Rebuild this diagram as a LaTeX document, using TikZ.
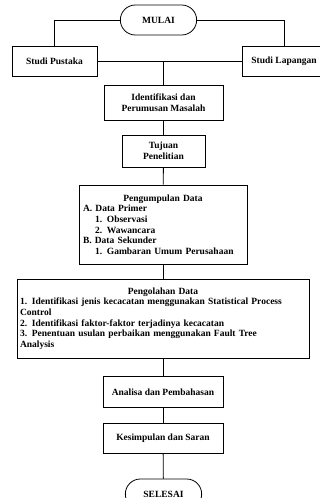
\documentclass[tikz,border=0pt]{standalone}
\usepackage{fontspec}
\setmainfont{Liberation Serif}
\usetikzlibrary{shapes}

\begin{document}
\begin{tikzpicture}[x=1pt,y={(0pt,-1pt)}]
    \tikzstyle{every node}=[font=\bfseries\fontsize{9.5}{10.6}\selectfont]
    \tikzstyle{box}=[rectangle,draw,line width=0.8pt,inner sep=3pt]
    \tikzstyle{terminal}=[rounded rectangle,draw,line width=0.8pt,minimum width=83,minimum height=30]
    \tikzstyle{line}=[draw,line width=0.8pt]
    \useasboundingbox (0,0) rectangle (320,498);
    \node[terminal] (mulai) at (158.5,20) {MULAI};
    \node[box,minimum width=85,minimum height=30] (pustaka) at (54.5,61) {Studi Pustaka};
    \node[box,minimum width=84,minimum height=30] (lapangan) at (284,61) {Studi Lapangan};
    \node[box,minimum width=119,minimum height=35,align=center] (ident) at (163.5,102.5) {Identifikasi dan\\Perumusan Masalah};
    \node[box,minimum width=83,minimum height=32,align=center] (tujuan) at (163.5,151) {Tujuan\\Penelitian};
    \node[box,minimum width=168,minimum height=79,text width=160pt,align=left] (kumpul) at (163,224.5)
      {\makebox[\linewidth]{Pengumpulan Data}\\
       A. Data Primer\\
       \hspace*{12pt}1. Observasi\\
       \hspace*{12pt}2. Wawancara\\
       B. Data Sekunder\\
       \hspace*{12pt}1. Gambaran Umum Perusahaan};
    \node[box,minimum width=292,minimum height=79,text width=286pt,align=left] (olah) at (163,318.5)
      {\makebox[\linewidth]{Pengolahan Data}\\
       1. Identifikasi jenis kecacatan menggunakan Statistical Process\\
       Control\\
       2. Identifikasi faktor-faktor terjadinya kecacatan\\
       3. Penentuan usulan perbaikan menggunakan Fault Tree\\
       Analysis};
    \node[box,minimum width=120,minimum height=31] (analisa) at (163,392) {Analisa dan Pembahasan};
    \node[box,minimum width=120,minimum height=30] (simpul) at (163,438.5) {Kesimpulan dan Saran};
    \node[terminal] (selesai) at (163.5,494) {SELESAI};
    % cabang atas
    \coordinate (cabang) at (ident.north |- pustaka.east);
    \path[line] (mulai.west) -| (pustaka.north);
    \path[line] (mulai.east) -| (lapangan.north);
    \path[line] (pustaka.east) -- (lapangan.west);
    \path[line] (cabang) -- (ident.north);
    % alur utama
    \path[line] (ident) -- (tujuan);
    \path[line] (tujuan) -- (kumpul);
    \path[line] (kumpul) -- (olah);
    \path[line] (olah) -- (analisa);
    \path[line] (analisa) -- (simpul);
    \path[line] (simpul) -- (selesai);
\end{tikzpicture}
\end{document}
